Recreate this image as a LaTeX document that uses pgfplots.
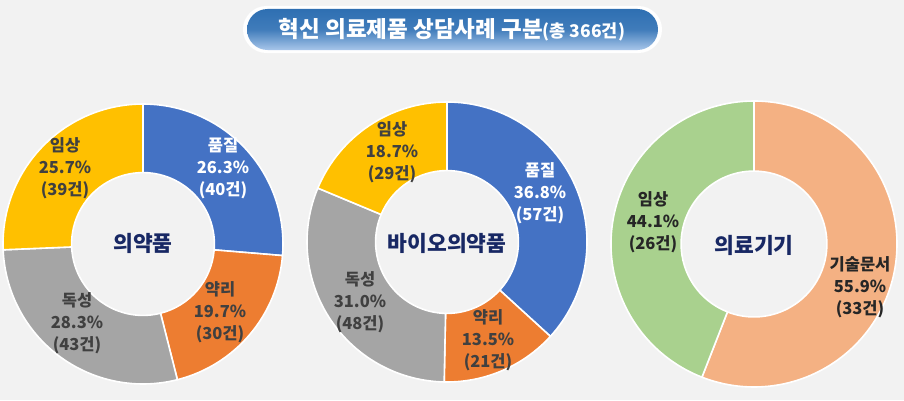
\documentclass[border=0pt]{standalone}
\usepackage{pgfplots}
\pgfplotsset{compat=1.18}
\usepackage{pgfplotstable}
\usepackage{fontspec}
\setmainfont{Noto Sans CJK KR}
\definecolor{bg}{HTML}{F2F2F2}
\definecolor{cblue}{HTML}{4472C4}
\definecolor{corange}{HTML}{ED7D31}
\definecolor{cgray}{HTML}{A5A5A5}
\definecolor{cyellow}{HTML}{FFC000}
\definecolor{cgreen}{HTML}{A9D18E}
\definecolor{clorange}{HTML}{F4B183}
\definecolor{navy}{RGB}{24,40,100}
\definecolor{txt}{HTML}{404040}
\definecolor{ttop}{HTML}{2E6FB2}
\definecolor{tbot}{HTML}{A8C6EA}

% counts, clockwise from 12 o'clock
\pgfplotstableread{
cat n col
품질 40 cblue
약리 30 corange
독성 43 cgray
임상 39 cyellow
}\tabA
\pgfplotstableread{
cat n col
품질 57 cblue
약리 21 corange
독성 48 cgray
임상 29 cyellow
}\tabB
\pgfplotstableread{
cat n col
기술문서 33 clorange
임상 26 cgreen
}\tabC

% build list of slice commands (angles from the counts)
\newcommand{\buildslices}[3]{% table, total, target macro
  \gdef#3{}%
  \gdef\angstart{90}%
  \pgfplotstablegetrowsof{#1}%
  \pgfmathtruncatemacro\nrows{\pgfplotsretval-1}%
  \foreach \i in {0,...,\nrows}{%
    \pgfplotstablegetelem{\i}{n}\of{#1}\let\nval\pgfplotsretval
    \pgfplotstablegetelem{\i}{col}\of{#1}\let\cval\pgfplotsretval
    \pgfmathsetmacro\angend{\angstart-\nval/#2*360}%
    \pgfmathsetmacro\xa{cos(\angstart)}%
    \pgfmathsetmacro\ya{sin(\angstart)}%
    \pgfmathsetmacro\xb{0.51*cos(\angend)}%
    \pgfmathsetmacro\yb{0.51*sin(\angend)}%
    \xdef#3{\unexpanded\expandafter{#3}\noexpand\slice{\angstart}{\angend}{\xa}{\ya}{\xb}{\yb}{\cval}}%
    \xdef\angstart{\angend}%
  }%
}
\buildslices{\tabA}{152}{\slicesA}
\buildslices{\tabB}{155}{\slicesB}
\buildslices{\tabC}{59}{\slicesC}

\newcommand{\slice}[7]{%
  \filldraw[fill=#7, draw=white, line width=1.6pt, line join=round]
    (axis cs:#3,#4) arc[start angle=#1, end angle=#2, radius=\Rout]
    -- (axis cs:#5,#6) arc[start angle=#2, end angle=#1, radius=\Rin] -- cycle;
}

\pgfplotsset{donut/.style={hide axis, clip=false, anchor=center,
  xmin=-1, xmax=1, ymin=-1, ymax=1}}

\tikzset{lab/.style={align=center, font=\bfseries\fontsize{16.5}{22}\selectfont},
  ctr/.style={text=navy, font=\bfseries\fontsize{21.5}{24}\selectfont}}

\begin{document}
\begin{tikzpicture}[x=1pt,y=1pt]
\fill[bg] (0,0) rectangle (904,400);
\useasboundingbox (0,0) rectangle (904,400);

% title
\fill[white, rounded corners=23.5pt] (243,347) rectangle (662,394);
\shade[top color=ttop, bottom color=tbot, middle color=ttop!85!tbot, rounded corners=20.5pt] (247,350) rectangle (658,391);
\node[text=white, font=\bfseries] at (452,370.5) {\fontsize{22.5}{26}\selectfont 혁신 의료제품 상담사례 구분\fontsize{17.5}{20}\selectfont(총 366건)};

% donut 1
\def\Rout{140pt}\def\Rin{71.4pt}
\begin{axis}[donut, at={(143pt,156pt)}, x=140pt, y=140pt]
\addplot[draw=none] coordinates {(-1,-1) (1,1)};
\slicesA
\end{axis}
% donut 2
\begin{axis}[donut, at={(447pt,158pt)}, x=140pt, y=140pt]
\addplot[draw=none] coordinates {(-1,-1) (1,1)};
\slicesB
\end{axis}
% donut 3
\def\Rout{143pt}\def\Rin{72.9pt}
\begin{axis}[donut, at={(754pt,156pt)}, x=143pt, y=143pt]
\addplot[draw=none] coordinates {(-1,-1) (1,1)};
\slicesC
\end{axis}

% centre labels
\node[ctr] at (143,157) {의약품};
\node[ctr] at (447,157) {바이오의약품};
\node[ctr] at (754,155) {의료기기};

% slice labels
\node[lab, text=white] at (223,232) {품질\\26.3\%\\(40건)};
\node[lab, text=txt] at (220,88) {약리\\19.7\%\\(30건)};
\node[lab, text=txt] at (77,77) {독성\\28.3\%\\(43건)};
\node[lab, text=txt] at (65,232) {임상\\25.7\%\\(39건)};

\node[lab, text=white] at (540,207) {품질\\36.8\%\\(57건)};
\node[lab, text=txt] at (488,60) {약리\\13.5\%\\(21건)};
\node[lab, text=txt] at (360,98) {독성\\31.0\%\\(48건)};
\node[lab, text=txt] at (392,248) {임상\\18.7\%\\(29건)};

\node[lab, text=black!85] at (860,113) {기술문서\\55.9\%\\(33건)};
\node[lab, text=black!85] at (653,178) {임상\\44.1\%\\(26건)};
\end{tikzpicture}
\end{document}
